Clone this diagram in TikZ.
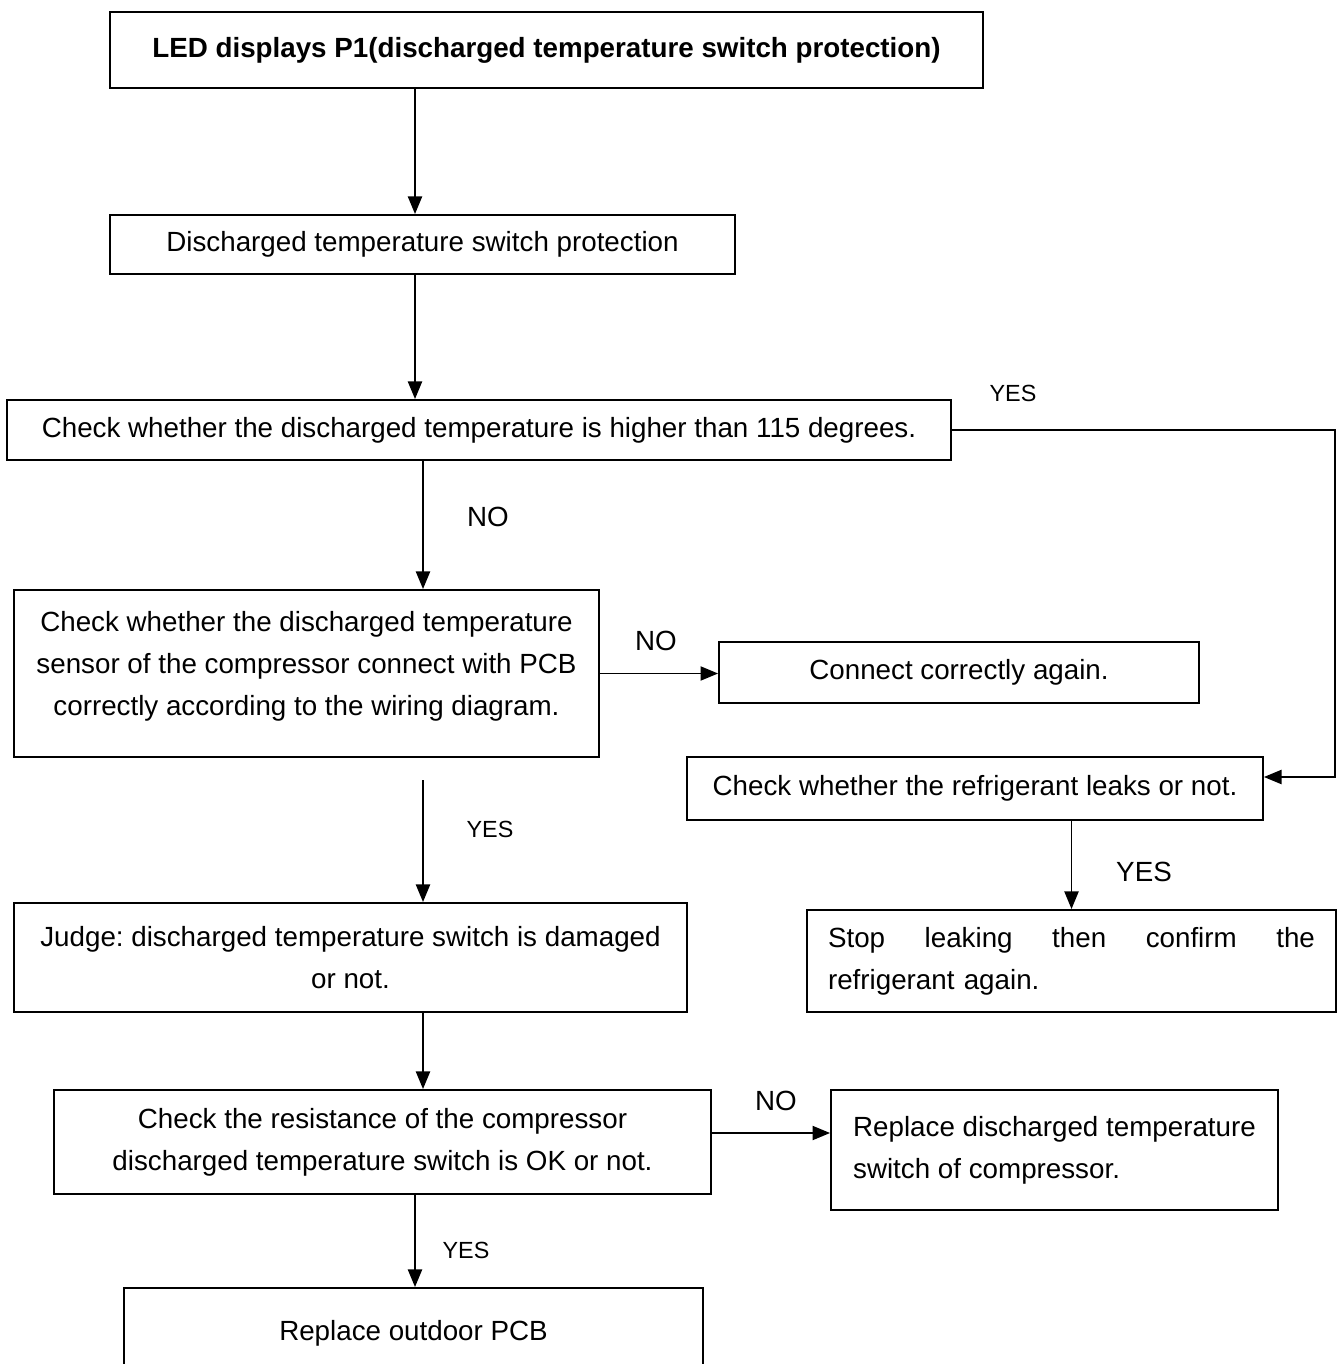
\documentclass[tikz,border=0pt]{standalone}
\usepackage{fontspec}
\setmainfont{Liberation Sans}
\frenchspacing
\usetikzlibrary{arrows.meta,positioning,calc}
\tikzset{
  flowbox/.style={draw, line width=1.1pt, align=center, inner sep=0pt,
    font=\fontsize{15.8}{23.8}\selectfont},
  arr/.style={-{Triangle[length=10pt,width=8pt]}, line width=1.1pt},
  lbl/.style={font=\fontsize{15.8}{18}\selectfont},
  smalllbl/.style={font=\fontsize{13.3}{16}\selectfont},
}

\begin{document}
\begin{tikzpicture}[x=0.02cm, y=-0.02cm]
  \useasboundingbox (0,0) rectangle (1341,1364);

  % columns of the vertical arrows
  \coordinate (colA) at (423,0);
  \coordinate (colB) at (415,0);
  \coordinate (rail) at (1335,0);
  \coordinate (yesStart) at (423,780);

  % Top: error code
  \node[flowbox, minimum width=17.46cm, minimum height=1.52cm,
        font=\fontsize{15.8}{23.8}\selectfont\bfseries] (led) at (546.5,50)
    {LED displays P1(discharged temperature switch protection)};

  \node[flowbox, minimum width=12.5cm, minimum height=1.18cm] (disch) at (422.5,244.5)
    {Discharged temperature switch protection};

  \node[flowbox, minimum width=18.88cm, minimum height=1.2cm] (check) at (479,430)
    {Check whether the discharged temperature is higher than 115 degrees.};

  % Left branch
  \node[flowbox, minimum width=11.7cm, minimum height=3.34cm, text depth=0.4cm] (sensor) at (306.5,673.5)
    {Check whether the discharged temperature\\
     sensor of the compressor connect with PCB\\
     correctly according to the wiring diagram.};

  \node[flowbox, minimum width=9.6cm, minimum height=1.22cm] (connect) at (959,672.5)
    {Connect correctly again.};

  \node[flowbox, minimum width=13.46cm, minimum height=2.18cm] (judge) at (350.5,957.5)
    {Judge: discharged temperature switch is damaged\\or not.};

  \node[flowbox, minimum width=13.14cm, minimum height=2.08cm] (resist) at (382.5,1142)
    {Check the resistance of the compressor\\
     discharged temperature switch is OK or not.};

  \node[flowbox, minimum width=8.94cm, minimum height=2.4cm, align=left] (swrep) at (1054.5,1150)
    {Replace discharged temperature\\switch of compressor.};

  \node[flowbox, minimum width=11.58cm, minimum height=1.8cm] (pcb) at (413.5,1333)
    {Replace outdoor PCB};

  % Right branch: refrigerant
  \node[flowbox, minimum width=11.52cm, minimum height=1.26cm] (leak) at (975,788.5)
    {Check whether the refrigerant leaks or not.};

  \node[flowbox, minimum width=10.58cm, minimum height=2.04cm,
        text width=9.74cm, align=left] (stop) at (1071.5,961)
    {Stop\hfill leaking\hfill then\hfill confirm\hfill the\\refrigerant again.};

  % Arrows
  \draw[arr] (led.south -| colB) -- (disch.north -| colB);
  \draw[arr] (disch.south -| colB) -- (check.north -| colB);
  \draw[arr] (check.south -| colA) -- (sensor.north -| colA);
  \draw[arr] (sensor.east) -- (sensor.east -| connect.west);
  \draw[arr] (check.east) -- (check.east -| rail) |- ([yshift=0.23cm]leak.east);
  \draw[arr] (stop.north |- leak.south) -- (stop.north);
  \draw[arr] (yesStart) -- (judge.north -| yesStart);
  \draw[arr] (judge.south -| colA) -- (resist.north -| colA);
  \draw[arr] ([yshift=0.18cm]resist.east) -- ([yshift=0.18cm]resist.east -| swrep.west);
  \draw[arr] (resist.south -| colB) -- (pcb.north -| colB);

  % Labels
  \node[smalllbl] (yesRail) at (1013,393) {YES};
  \node[lbl] (noSensor) at (488,517) {NO};
  \node[lbl] (noConnect) at (656,641) {NO};
  \node[lbl] (yesLeak) at (1144,872) {YES};
  \node[smalllbl] (yesJudge) at (490,829) {YES};
  \node[lbl] (noSwitch) at (776,1101) {NO};
  \node[smalllbl] (yesPcb) at (466,1250) {YES};
\end{tikzpicture}
\end{document}
